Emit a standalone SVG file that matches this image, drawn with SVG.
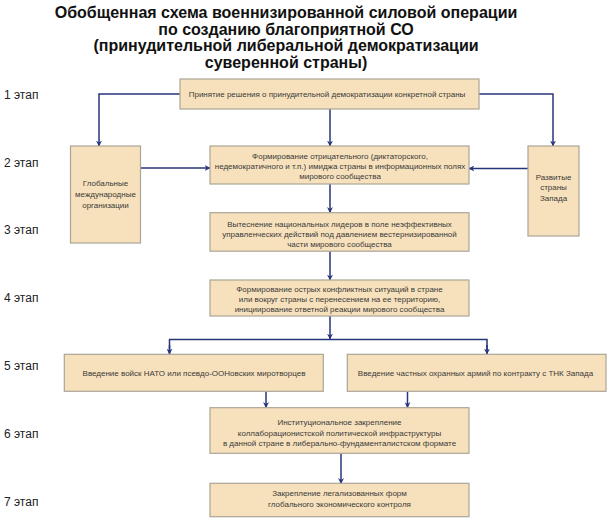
<svg xmlns="http://www.w3.org/2000/svg" width="610" height="519" viewBox="0 0 610 519">
<style>
.title{font-family:"Liberation Sans",Arial,sans-serif;font-weight:bold;font-size:16px;fill:#111;text-anchor:middle}
.stage{font-family:"Liberation Sans",Arial,sans-serif;font-size:12px;fill:#222}
.box{fill:#F7E1BC;stroke:#ABA597;stroke-width:1.2}
.t{font-family:"Liberation Sans",Arial,sans-serif;font-size:8px;fill:#3a3a3a;text-anchor:middle}
.c{fill:none;stroke:#27357A;stroke-width:1.5}
</style>
<defs>
<marker id="ah" viewBox="0 0 10 10" refX="9" refY="5" markerWidth="6" markerHeight="6" orient="auto" markerUnits="userSpaceOnUse">
<path d="M0,0 L10,5 L0,10 L3,5 z" fill="#27357A"/>
</marker>
</defs>
<rect width="610" height="519" fill="#ffffff"/>
<g id="title">
<text class="title" x="286" y="18">Обобщенная схема военнизированной силовой операции</text>
<text class="title" x="286" y="34.5">по созданию благоприятной СО</text>
<text class="title" x="286" y="51">(принудительной либеральной демократизации</text>
<text class="title" x="286" y="67.5">суверенной страны)</text>
</g>
<g id="stages">
<text class="stage" x="4" y="99">1 этап</text>
<text class="stage" x="4" y="167">2 этап</text>
<text class="stage" x="4" y="234">3 этап</text>
<text class="stage" x="4" y="302">4 этап</text>
<text class="stage" x="4" y="370">5 этап</text>
<text class="stage" x="4" y="438">6 этап</text>
<text class="stage" x="4" y="506">7 этап</text>
</g>
<g id="connectors">
<polyline class="c" points="180,94 99,94 99,146" marker-end="url(#ah)"/>
<polyline class="c" points="479,94 553,94 553,146" marker-end="url(#ah)"/>
<line class="c" x1="330" y1="109" x2="330" y2="146" marker-end="url(#ah)"/>
<line class="c" x1="140.5" y1="168" x2="210" y2="168" marker-end="url(#ah)"/>
<line class="c" x1="528" y1="168.5" x2="469" y2="168.5" marker-end="url(#ah)"/>
<line class="c" x1="330" y1="184" x2="330" y2="212.5" marker-end="url(#ah)"/>
<line class="c" x1="330" y1="251" x2="330" y2="280" marker-end="url(#ah)"/>
<line class="c" x1="330" y1="316" x2="330" y2="339" marker-end="url(#ah)"/>
<polyline class="c" points="169.5,354 169.5,339.5 487,339.5 487,354" />
<line class="c" x1="169.5" y1="345" x2="169.5" y2="354" marker-end="url(#ah)"/>
<line class="c" x1="487" y1="345" x2="487" y2="354" marker-end="url(#ah)"/>
<line class="c" x1="266" y1="391.5" x2="266" y2="407.5" marker-end="url(#ah)"/>
<line class="c" x1="407.5" y1="391.5" x2="407.5" y2="407.5" marker-end="url(#ah)"/>
<line class="c" x1="341" y1="453.5" x2="341" y2="483.5" marker-end="url(#ah)"/>
</g>
<g id="n1">
<rect class="box" x="180" y="79" width="299" height="30"/>
<text class="t" x="327" y="97">Принятие решения о принудительной демократизации конкретной страны</text>
</g>
<g id="n-global">
<rect class="box" x="70.5" y="146" width="70" height="97"/>
<text class="t" x="105.5" y="186.3">Глобальные</text>
<text class="t" x="105.5" y="197">международные</text>
<text class="t" x="105.5" y="207.7">организации</text>
</g>
<g id="n-west">
<rect class="box" x="528" y="146" width="51" height="90"/>
<text class="t" x="553.5" y="179.7">Развитые</text>
<text class="t" x="553.5" y="190.3">страны</text>
<text class="t" x="553.5" y="200.5">Запада</text>
</g>
<g id="n2">
<rect class="box" x="210" y="146" width="259" height="38"/>
<text class="t" x="340" y="159">Формирование отрицательного (диктаторского,</text>
<text class="t" x="340" y="168.5">недемократичного и т.п.) имиджа страны в информационных полях</text>
<text class="t" x="340" y="178.5">мирового сообщества</text>
</g>
<g id="n3">
<rect class="box" x="210" y="212.7" width="259" height="38.5"/>
<text class="t" x="339.5" y="226.7">Вытеснение национальных лидеров в поле неэффективных</text>
<text class="t" x="339.5" y="236.5">управленческих действий под давлением вестернизированной</text>
<text class="t" x="339.5" y="246.5">части мирового сообщества</text>
</g>
<g id="n4">
<rect class="box" x="210" y="280" width="259" height="36"/>
<text class="t" x="339.5" y="292">Формирование острых конфликтных ситуаций в стране</text>
<text class="t" x="339.5" y="301.7">или вокруг страны с перенесением на ее территорию,</text>
<text class="t" x="339.5" y="311.5">инициирование ответной реакции мирового сообщества</text>
</g>
<g id="n5a">
<rect class="box" x="64.3" y="354.3" width="259" height="37"/>
<text class="t" x="194" y="375.5">Введение войск НАТО или псевдо-ООНовских миротворцев</text>
</g>
<g id="n5b">
<rect class="box" x="347.3" y="354.3" width="258.7" height="37"/>
<text class="t" x="475.5" y="375.5">Введение частных охранных армий по контракту с ТНК Запада</text>
</g>
<g id="n6">
<rect class="box" x="210" y="407.7" width="259" height="45.6"/>
<text class="t" x="339.5" y="425.3">Институциональное закрепление</text>
<text class="t" x="339.5" y="435.5">коллаборационистской политической инфраструктуры</text>
<text class="t" x="339.5" y="446">в данной стране в либерально-фундаменталистском формате</text>
</g>
<g id="n7">
<rect class="box" x="210" y="483.3" width="259" height="33.4"/>
<text class="t" x="339.5" y="496.3">Закрепление легализованных форм</text>
<text class="t" x="339.5" y="506.7">глобального экономического контроля</text>
</g>
</svg>
